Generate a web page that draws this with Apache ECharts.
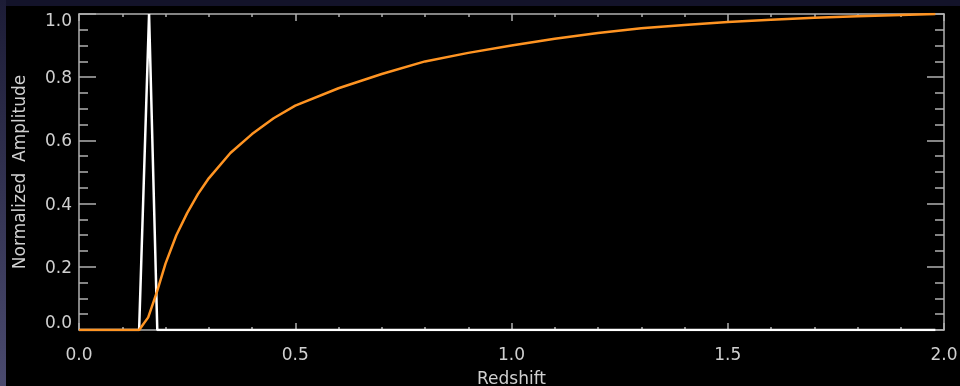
<!DOCTYPE html>
<html>
<head>
<meta charset="utf-8">
<script src="https://cdn.jsdelivr.net/npm/echarts@6/dist/echarts.min.js"></script>
<style>
html,body{margin:0;padding:0;width:960px;height:386px;overflow:hidden;background:#13132a;}
#side{position:absolute;left:0;top:0;width:6px;height:386px;background:linear-gradient(#1c1c36,#4a4a6e);}
#chart{position:absolute;left:6px;top:6px;width:954px;height:380px;background:#000;}
</style>
</head>
<body>
<div id="side"></div>
<div id="chart"></div>
<script>
// Redshift distribution (white, narrow peak) and cumulative amplitude (orange)
const peakX = [0.0, 0.139, 0.162, 0.181, 1.98];
const peakY = [0.0, 0.0, 1.0, 0.0, 0.0];

const cumX = [0.0, 0.139, 0.16, 0.18, 0.20, 0.225, 0.25, 0.275, 0.30, 0.35, 0.40, 0.45, 0.50, 0.60, 0.70, 0.80, 0.90, 1.00, 1.10, 1.20, 1.30, 1.40, 1.50, 1.60, 1.70, 1.80, 1.90, 1.98];
const cumY = [0.0, 0.0, 0.04, 0.12, 0.21, 0.30, 0.37, 0.43, 0.48, 0.56, 0.62, 0.67, 0.71, 0.765, 0.81, 0.85, 0.877, 0.90, 0.922, 0.94, 0.955, 0.965, 0.975, 0.982, 0.988, 0.993, 0.997, 1.0];

const xTicks = [0.0, 0.5, 1.0, 1.5, 2.0];
const yTicks = [0.0, 0.2, 0.4, 0.6, 0.8, 1.0];

const axisCol = '#b0b0b0';
const labCol = '#d0d0d0';
const font = 'DejaVu Sans';

const chart = echarts.init(document.getElementById('chart'));
const xBase = {
  type: 'value', min: 0, max: 2, interval: 0.5,
  axisLine: {show: true, onZero: false, lineStyle: {color: axisCol, width: 1.5}},
  axisTick: {show: true, inside: true, length: 7, lineStyle: {color: axisCol, width: 1.5}},
  minorTick: {show: true, splitNumber: 5, length: 3, lineStyle: {color: axisCol, width: 1.5}},
  splitLine: {show: false}
};
const yBase = {
  type: 'value', min: 0, max: 1, interval: 0.2,
  axisLine: {show: true, onZero: false, lineStyle: {color: axisCol, width: 1.5}},
  axisTick: {show: true, inside: true, length: 17, lineStyle: {color: axisCol, width: 1.5}},
  minorTick: {show: true, splitNumber: 4, length: 9, lineStyle: {color: axisCol, width: 1.5}},
  splitLine: {show: false}
};
chart.setOption({
  backgroundColor: '#000',
  animation: false,
  grid: {left: 73, right: 16, top: 8, bottom: 56, containLabel: false, outerBoundsMode: 'none'},
  xAxis: [
    Object.assign({}, xBase, {
      position: 'bottom',
      name: 'Redshift', nameLocation: 'middle', nameGap: 41,
      nameTextStyle: {color: labCol, fontSize: 17, fontFamily: font},
      axisLabel: {color: labCol, fontSize: 17, fontFamily: font, margin: 17,
        formatter: v => xTicks.includes(v) ? v.toFixed(1) : ''}
    }),
    Object.assign({}, xBase, {position: 'top', axisLabel: {show: false}})
  ],
  yAxis: [
    Object.assign({}, yBase, {
      position: 'left',
      name: 'Normalized  Amplitude', nameLocation: 'middle', nameGap: 50,
      nameTextStyle: {color: labCol, fontSize: 17, fontFamily: font},
      axisLabel: {color: labCol, fontSize: 17, fontFamily: font, margin: 7,
        formatter: v => {
          if (!yTicks.includes(v)) return '';
          const s = v.toFixed(1);
          if (v === 1) return '{top|' + s + '}';
          if (v === 0) return '{bot|' + s + '}';
          return '{n|' + s + '}';
        },
        rich: {
          top: {color: labCol, fontSize: 17, fontFamily: font, padding: [16, 0, 0, 0]},
          bot: {color: labCol, fontSize: 17, fontFamily: font, padding: [0, 0, 12, 0]},
          n: {color: labCol, fontSize: 17, fontFamily: font, padding: [3, 0, 0, 0]}
        }
      }
    }),
    Object.assign({}, yBase, {position: 'right', axisLabel: {show: false}})
  ],
  series: [
    {
      type: 'line', data: peakX.map((x, i) => [x, peakY[i]]),
      symbol: 'none', lineStyle: {color: '#ffffff', width: 2.5}, z: 2
    },
    {
      type: 'line', data: cumX.map((x, i) => [x, cumY[i]]),
      symbol: 'none', lineStyle: {color: '#ff9422', width: 2.5}, z: 3
    }
  ]
});
</script>
</body>
</html>
